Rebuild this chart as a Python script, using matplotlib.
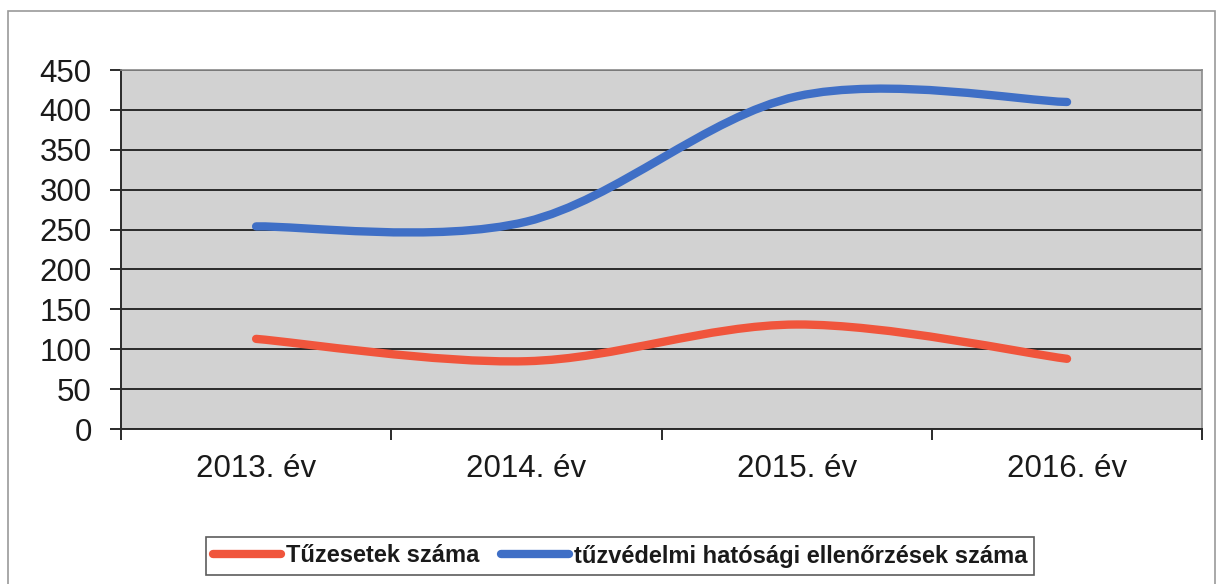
"""Tűzesetek / tűzvédelmi ellenőrzések, 2013-2016 (Excel-stílusú simított vonal)."""

import matplotlib
matplotlib.use("Agg")
import matplotlib.pyplot as plt
from matplotlib.path import Path
from matplotlib.patches import PathPatch, Rectangle
from matplotlib.lines import Line2D

plt.rcParams["font.family"] = ["Liberation Sans", "DejaVu Sans"]

# adatok
evek = ["2013. év", "2014. év", "2015. év", "2016. év"]
tuzesetek = [113, 85, 131, 88]
ellenorzesek = [254, 260, 417, 410]
y_ticks = list(range(0, 451, 50))

RED = "#f0553c"
BLUE = "#3f6fc6"


def smooth_path(xs, ys):
    # Excel-féle simítás: köbös Bézier, kontrollpontok (P[i+1]-P[i-1])/6
    pts = list(zip(xs, ys))
    verts = [pts[0]]
    codes = [Path.MOVETO]
    n = len(pts)
    for i in range(n - 1):
        p0 = pts[max(i - 1, 0)]
        p1 = pts[i]
        p2 = pts[i + 1]
        p3 = pts[min(i + 2, n - 1)]
        c1 = (p1[0] + (p2[0] - p0[0]) / 6, p1[1] + (p2[1] - p0[1]) / 6)
        c2 = (p2[0] - (p3[0] - p1[0]) / 6, p2[1] - (p3[1] - p1[1]) / 6)
        verts += [c1, c2, p2]
        codes += [Path.CURVE4] * 3
    return Path(verts, codes)


fig = plt.figure(figsize=(12.23, 5.84), dpi=100)
ax = fig.add_axes([0.0989, 0.2654, 0.8841, 0.6146])

# külső keret
fig.patches.append(Rectangle((8 / 1223, -0.01), 1207 / 1223, 1 - 11 / 584 + 0.01,
                             transform=fig.transFigure, fill=False,
                             edgecolor="#9a9a9a", lw=1.2))

ax.set_facecolor("#d2d2d2")
x = list(range(len(evek)))
for vals, col in [(tuzesetek, RED), (ellenorzesek, BLUE)]:
    ax.add_patch(PathPatch(smooth_path(x, vals), fill=False, edgecolor=col,
                           lw=6, capstyle="round", joinstyle="round", zorder=3))

ax.set_xlim(-0.5, len(evek) - 0.5)
ax.set_ylim(0, 450)
ax.set_yticks(y_ticks)
ax.set_xticks(x)
ax.set_xticklabels(evek)
ax.set_xticks([i - 0.5 for i in range(len(evek) + 1)], minor=True)

ax.grid(axis="y", color="#2a2a2a", lw=1.4)
ax.grid(axis="x", visible=False)
ax.set_axisbelow(True)

for s in ["top", "right"]:
    ax.spines[s].set_color("#8a8a8a")
    ax.spines[s].set_linewidth(1.2)
for s in ["left", "bottom"]:
    ax.spines[s].set_color("#2a2a2a")
    ax.spines[s].set_linewidth(1.4)

ax.tick_params(axis="y", length=8, width=1.4, color="#2a2a2a", labelsize=22.5,
               pad=13, labelcolor="#1a1a1a")
ax.tick_params(axis="x", which="major", length=0, labelsize=22.5, pad=18,
               labelcolor="#1a1a1a")
ax.tick_params(axis="x", which="minor", length=8, width=1.4, color="#2a2a2a")

handles = [Line2D([], [], color=RED, lw=6, solid_capstyle="round"),
           Line2D([], [], color=BLUE, lw=6, solid_capstyle="round")]
leg = fig.legend(handles, ["Tűzesetek száma", "tűzvédelmi hatósági ellenőrzések száma"],
                 loc="center", bbox_to_anchor=(620 / 1223, 1 - 556 / 584), ncol=2,
                 frameon=True, fancybox=False, edgecolor="#333333",
                 fontsize=17, handlelength=2.9, handletextpad=0.2,
                 columnspacing=0.9, borderpad=0.3, borderaxespad=0)
leg.get_frame().set_linewidth(1.2)
for t in leg.get_texts():
    t.set_fontweight("bold")
    t.set_color("#1a1a1a")

fig.savefig("out.png", dpi=100)
